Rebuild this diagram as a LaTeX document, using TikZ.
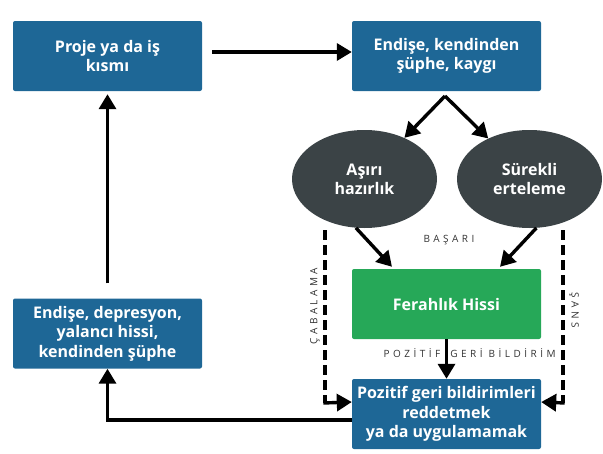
\documentclass[tikz,border=0pt]{standalone}
\usepackage{fontspec}
\setmainfont{Open Sans}
\usetikzlibrary{arrows.meta,shapes.geometric}
\definecolor{boxblue}{RGB}{30,103,150}
\definecolor{boxgreen}{RGB}{38,168,88}
\definecolor{ovaldark}{RGB}{59,67,70}
\definecolor{labelgray}{RGB}{50,50,50}
\begin{document}
\begin{tikzpicture}[x=1pt,y=-1pt,
  bluebox/.style={fill=boxblue,rounded corners=2pt,minimum width=189pt,minimum height=70pt,
    text=white,font=\fontsize{16}{19.5}\selectfont\bfseries,align=center,inner sep=0pt},
  greenbox/.style={bluebox,fill=boxgreen},
  oval/.style={ellipse,fill=ovaldark,minimum width=145pt,minimum height=98pt,text=white,
    font=\fontsize{16}{19}\selectfont\bfseries,align=center,inner sep=0pt},
  arr/.style={line width=3.4pt,-{Triangle[length=15pt,width=17pt]}},
  dline/.style={line width=3.4pt,dash pattern=on 10pt off 5pt},
  lbl/.style={text=labelgray,font=\fontsize{10}{12}\selectfont\addfontfeatures{LetterSpace=35},inner sep=0pt}
]
\useasboundingbox (0,0) rectangle (603,453);
\node[bluebox] (b1) at (107.5,56) {Proje ya da iş\\kısmı};
\node[bluebox] (b2) at (446.5,56) {Endişe, kendinden\\şüphe, kaygı};
\node[oval] (e1) at (364.5,179) {Aşırı\\hazırlık};
\node[oval] (e2) at (529.5,179) {Sürekli\\erteleme};
\node[greenbox] (g) at (446.5,304) {Ferahlık Hissi};
\node[bluebox] (bt) at (446.5,414) {Pozitif geri bildirimleri\\reddetmek\\ya da uygulamamak};
\node[bluebox] (bl) at (107.5,333.5) {Endişe, depresyon,\\yalancı hissi,\\kendinden şüphe};

\node[lbl] (basari) at (449,240) {BAŞARI};
\node[lbl,rotate=90] (caba) at (315,306) {ÇABALAMA};
\node[lbl,rotate=-90] (sans) at (574,310) {ŞANS};
\node[lbl] (poz) at (412,353) {POZİTİF};
\node[lbl] (geri) at (503,353) {GERİ BİLDİRİM};

\coordinate (split) at (445,96);
\coordinate (dl1) at (325,230);
\coordinate (dl2) at (325,403);
\coordinate (dr1) at (563,230);
\coordinate (dr2) at (563,403);

\draw[arr] ([xshift=10pt,yshift=4pt]b1.east) -- ([yshift=4pt]b2.west);
\draw[arr] (split) -- (e1);
\draw[arr] (split) -- (e2);
\draw[arr] (e1.-100) -- ([xshift=-54.5pt,yshift=2pt]g.north);
\draw[arr] (e2.-82) -- ([xshift=53.5pt,yshift=2pt]g.north);
\draw[arr] (g.south) -- (bt.north);
\draw[dline] (dl1) -- (dl2);
\draw[dline] (dr1) -- (dr2);
\draw[arr] ([xshift=-1.7pt]dl2) -- ([yshift=12pt]bt.west);
\draw[arr] ([xshift=1.7pt]dr2) -- ([yshift=12pt]bt.east);
\draw[arr] ([yshift=-6pt]bt.west) -| (bl.south);
\draw[arr] ([yshift=15pt]bl.north) -- ([yshift=-3pt]b1.south);
\end{tikzpicture}
\end{document}
